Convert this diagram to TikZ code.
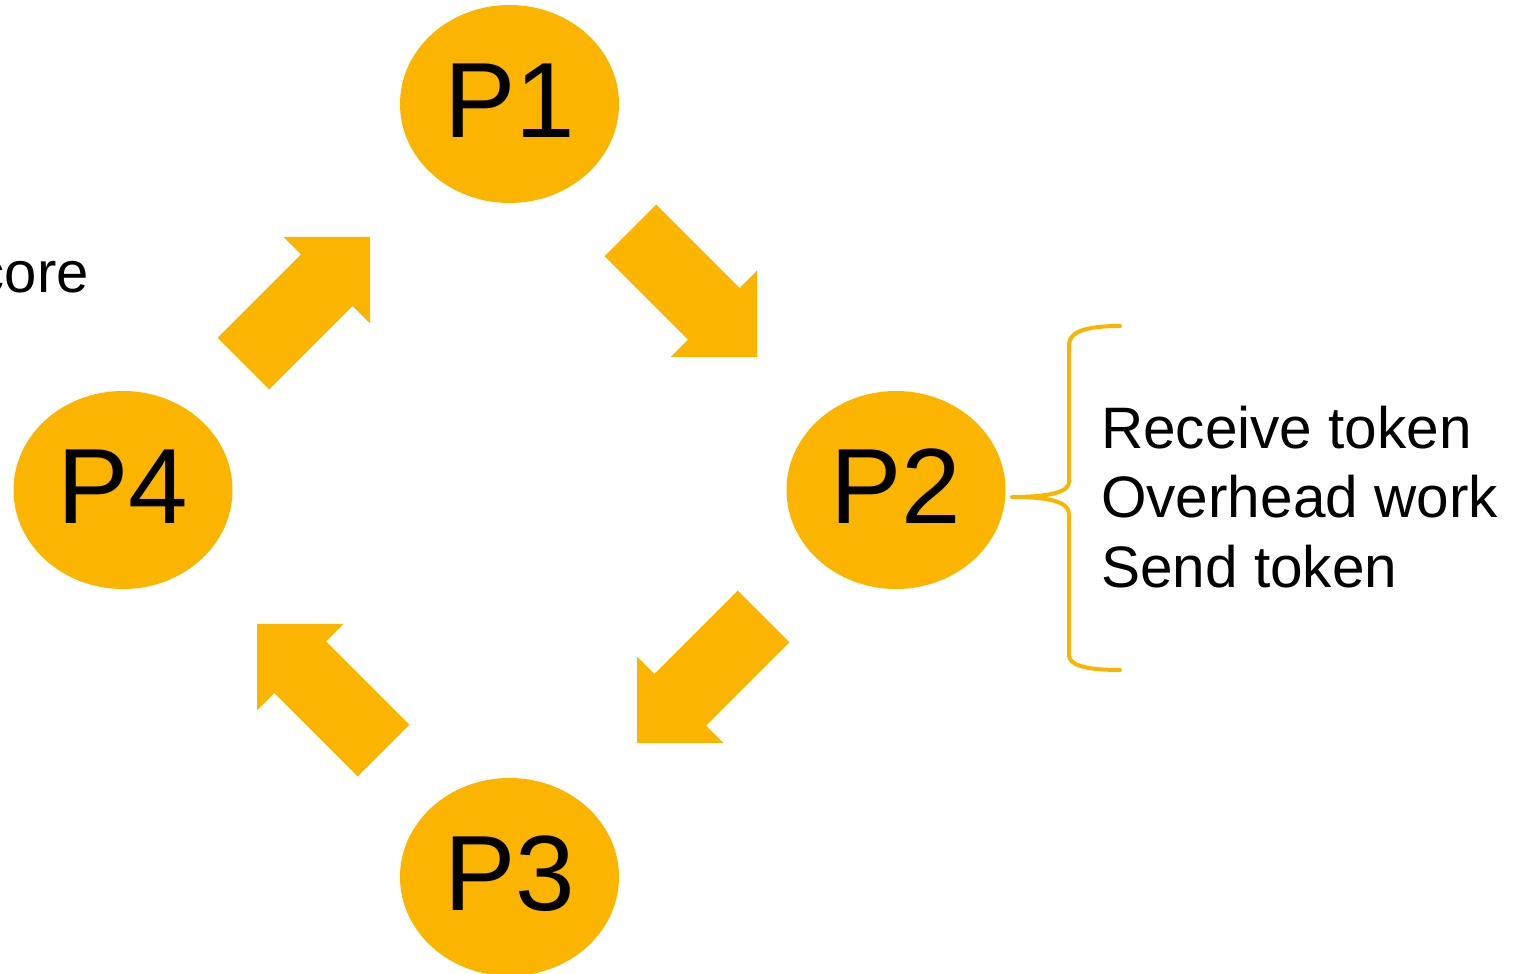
\documentclass[tikz,border=0pt]{standalone}
\usepackage{fontspec}
\setmainfont{Liberation Sans}
\usetikzlibrary{shapes.geometric}
\definecolor{tokenorange}{HTML}{FBB500}
\tikzset{
  proc/.style={ellipse, fill=tokenorange, draw=none, inner sep=0pt,
    minimum width=219pt, minimum height=198pt,
    font=\fontsize{107}{107}\selectfont, text height=77pt, text depth=10pt},
  steptext/.style={anchor=base west, inner sep=0pt, font=\fontsize{58.5}{58.5}\selectfont},
  sidetext/.style={anchor=base east, inner sep=0pt, font=\fontsize{58}{58}\selectfont},
  bracket/.style={draw=tokenorange, line width=4pt, line cap=round, line join=round},
  flowarrow/.style={fill=tokenorange, draw=none}
}
% block arrow with its tip at the origin, pointing along +x
\newcommand{\tokenarrow}[2]{%
  \begin{scope}[shift={#1}, rotate=#2]
    \fill[flowarrow] (0,0) -- (-61,61) -- (-61,36.5) -- (-179,36.5)
      -- (-179,-36.5) -- (-61,-36.5) -- (-61,-61) -- cycle;
  \end{scope}}
\begin{document}
\begin{tikzpicture}[x=1pt, y=1pt]
  \useasboundingbox (0,0) rectangle (1527,974);

  % processes in the ring
  \node[proc] (p1) at (509.5,870) {P1};
  \node[proc] (p2) at (896,484) {P2};
  \node[proc] (p3) at (509.5,97) {P3};
  \node[proc] (p4) at (123,484) {P4};

  % token passing direction
  \coordinate (t41) at (370,737);
  \coordinate (t12) at (757,617);
  \coordinate (t23) at (637,231);
  \coordinate (t34) at (257,350);
  \tokenarrow{(t41)}{45}
  \tokenarrow{(t12)}{-45}
  \tokenarrow{(t23)}{-135}
  \tokenarrow{(t34)}{135}

  % what each process does with the token
  \coordinate (bt) at (1120,648);
  \coordinate (bm) at (1012,477);
  \coordinate (bb) at (1120,304);
  \draw[bracket] (bt) .. controls (1085,648) and (1069,642) .. (1069,629)
    -- (1069,492) .. controls (1069,482) and (1050,477) .. (bm)
    .. controls (1050,477) and (1069,472) .. (1069,460)
    -- (1069,319) .. controls (1069,309) and (1085,304) .. (bb);

  \node[steptext] (s1) at (1101,525) {Receive token};
  \node[steptext] (s2) at (1101,456) {Overhead work};
  \node[steptext] (s3) at (1101,386) {Send token};

  % text running in from the left edge
  \node[sidetext] (w1) at (3,871) {e};
  \node[sidetext] (w2) at (89,681) {core};
\end{tikzpicture}
\end{document}
